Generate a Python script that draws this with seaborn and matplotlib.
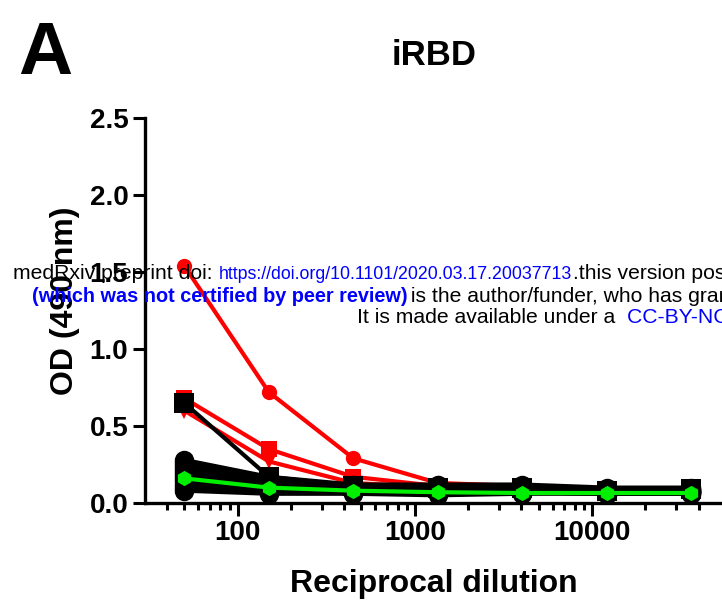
import numpy as np
import pandas as pd
import matplotlib
matplotlib.use("Agg")
import matplotlib.pyplot as plt
import seaborn as sns
from matplotlib.ticker import FixedLocator, NullFormatter

sns.set_theme(style="white")
plt.rcParams["font.family"] = ["Liberation Sans", "DejaVu Sans"]
plt.rcParams["text.color"] = "black"
plt.rcParams["axes.labelcolor"] = "black"
plt.rcParams["xtick.color"] = "black"
plt.rcParams["ytick.color"] = "black"

# -------------------
# Data
# -------------------
dilution = [50, 150, 450, 1350, 4050, 12150, 36450]

red_circle = [1.54, 0.72, 0.29, 0.13, 0.11, 0.09, 0.08]
red_square = [0.68, 0.35, 0.17, 0.11, 0.10, 0.08, 0.08]
red_triangle = [0.60, 0.27, 0.13, 0.10, 0.09, 0.08, 0.08]

black_square = [0.65, 0.17, 0.11, 0.10, 0.10, 0.08, 0.09]
black_circles = [
    [0.28, 0.17, 0.12, 0.12, 0.12, 0.10, 0.10],
    [0.26, 0.15, 0.11, 0.11, 0.11, 0.09, 0.09],
    [0.24, 0.14, 0.10, 0.10, 0.10, 0.08, 0.08],
    [0.22, 0.13, 0.10, 0.09, 0.10, 0.08, 0.09],
    [0.20, 0.12, 0.09, 0.09, 0.09, 0.08, 0.08],
    [0.18, 0.11, 0.09, 0.08, 0.09, 0.07, 0.08],
    [0.16, 0.10, 0.08, 0.08, 0.08, 0.07, 0.07],
    [0.14, 0.09, 0.08, 0.07, 0.08, 0.07, 0.07],
    [0.12, 0.08, 0.07, 0.07, 0.07, 0.06, 0.07],
    [0.10, 0.07, 0.07, 0.06, 0.07, 0.06, 0.06],
    [0.08, 0.06, 0.06, 0.05, 0.06, 0.06, 0.06],
]

green = [0.16, 0.10, 0.08, 0.07, 0.065, 0.065, 0.065]

# -------------------
# Long-form tables
# -------------------
def to_long(series_dict):
    rows = []
    for name, vals in series_dict.items():
        for d, v in zip(dilution, vals):
            rows.append({"series": name, "dilution": d, "od": v})
    return pd.DataFrame(rows)

red_df = to_long({"r_circle": red_circle, "r_square": red_square, "r_tri": red_triangle})
black_dict = {f"b{i}": v for i, v in enumerate(black_circles)}
black_dict["b_square"] = black_square
black_df = to_long(black_dict)
green_df = to_long({"green": green})

# -------------------
# Figure
# -------------------
W, H = 722, 607
fig = plt.figure(figsize=(W / 100, H / 100), dpi=100)
ax = fig.add_axes([145 / W, 104 / H, 578 / W, 385 / H])

sns.lineplot(data=red_df, x="dilution", y="od", hue="series", style="series",
             palette={"r_circle": "#ff0000", "r_square": "#ff0000", "r_tri": "#ff0000"},
             markers={"r_circle": "o", "r_square": "s", "r_tri": "v"},
             dashes=False, markersize=11, markeredgewidth=0, linewidth=3,
             legend=False, ax=ax, estimator=None)

black_markers = {k: "o" for k in black_dict}
black_markers["b_square"] = "s"
sns.lineplot(data=black_df, x="dilution", y="od", hue="series", style="series",
             palette={k: "black" for k in black_dict}, markers=black_markers,
             dashes=False, markersize=14, markeredgewidth=0, linewidth=3,
             legend=False, ax=ax, estimator=None)

sns.lineplot(data=green_df, x="dilution", y="od", hue="series", style="series",
             palette={"green": "#00ee00"}, markers={"green": "h"},
             dashes=False, markersize=11, markeredgewidth=0, linewidth=3,
             legend=False, ax=ax, estimator=None)

ax.set_xscale("log")
ax.set_xlim(30, 55000)
ax.set_ylim(0, 2.5)

ax.xaxis.set_major_locator(FixedLocator([100, 1000, 10000]))
ax.xaxis.set_minor_locator(FixedLocator(
    [40, 50, 60, 70, 80, 90] + [200, 300, 400, 500, 600, 700, 800, 900]
    + [2000, 3000, 4000, 5000, 6000, 7000, 8000, 9000] + [20000, 30000, 40000]))
ax.xaxis.set_minor_formatter(NullFormatter())
ax.set_xticklabels(["100", "1000", "10000"])
ax.set_yticks([0, 0.5, 1.0, 1.5, 2.0, 2.5])
ax.set_yticklabels(["0.0", "0.5", "1.0", "1.5", "2.0", "2.5"])

for s in ["top", "right"]:
    ax.spines[s].set_visible(False)
for s in ["left", "bottom"]:
    ax.spines[s].set_linewidth(2.4)
    ax.spines[s].set_color("black")

ax.tick_params(axis="both", which="major", direction="out", length=9, width=2.2,
               labelsize=20, color="black", pad=3, left=True, bottom=True)
ax.tick_params(axis="x", which="minor", direction="out", length=5, width=2.2,
               color="black", bottom=True)
for lab in ax.get_xticklabels() + ax.get_yticklabels():
    lab.set_fontweight("bold")

ax.set_xlabel("Reciprocal dilution", fontsize=23, fontweight="bold", labelpad=17)
ax.set_ylabel("OD (490 nm)", fontsize=23, fontweight="bold")
ax.yaxis.set_label_coords(-0.113, 0.525)
ax.set_title("iRBD", fontsize=25, fontweight="bold", pad=38, color="black")

fig.text(18 / W, 1 - 74 / H, "A", fontsize=54, fontweight="bold", va="baseline")

# medRxiv overlay text, each piece placed at its own left edge
overlay = [
    (13, 279, "medRxiv preprint doi: ", "black", "normal", 15.2),
    (219, 279, "https://doi.org/10.1101/2020.03.17.20037713", "#0000ff", "normal", 12.8),
    (573, 279, ".this version posted March 20, 2020.", "black", "normal", 15.2),
    (32, 302, "(which was not certified by peer review)", "#0000ff", "bold", 14.3),
    (405, 302, " is the author/funder, who has granted medRxiv a license", "black", "normal", 15.2),
    (357, 323, "It is made available under a ", "black", "normal", 15.2),
    (627, 323, "CC-BY-NC-ND 4.0 International license", "#0000ff", "normal", 15.2),
]
for x_px, base_px, txt, color, weight, size in overlay:
    fig.text(x_px / W, 1 - base_px / H, txt, fontsize=size, color=color,
             fontweight=weight, va="baseline", ha="left")

fig.savefig("out.png", dpi=100)
